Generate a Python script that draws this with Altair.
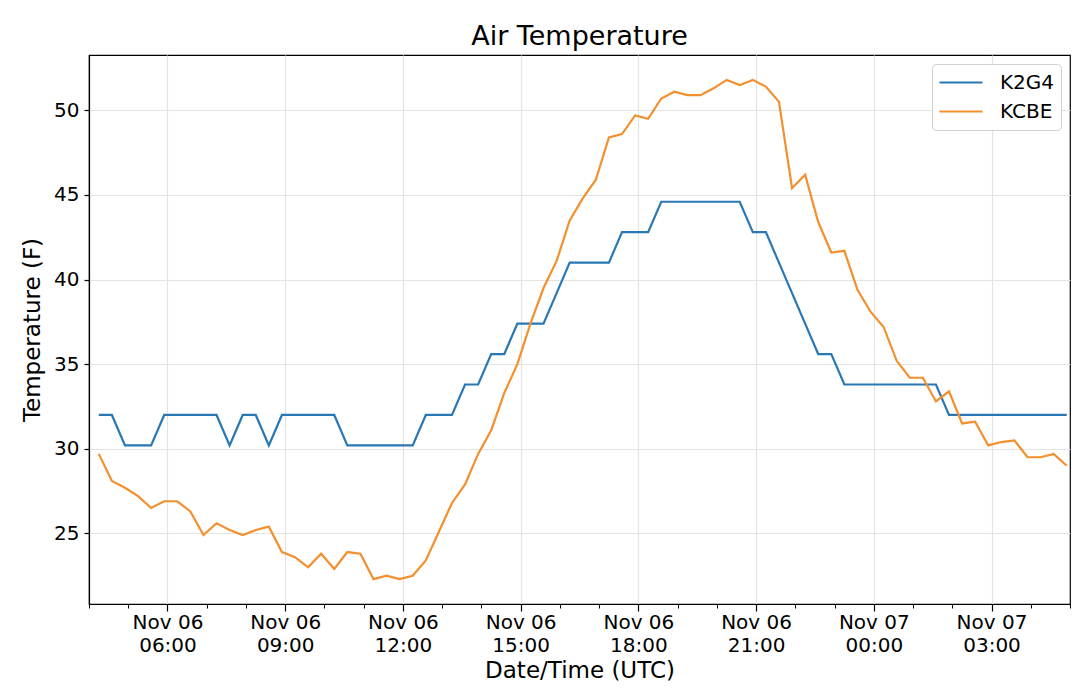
import altair as alt
import pandas as pd

# ---- data ----
start_time = "2018-11-06T04:15:00Z"   # first observation, then every 20 minutes
stations = ["K2G4", "KCBE"]
k2g4 = [32.0, 32.0, 30.2, 30.2, 30.2, 32.0, 32.0, 32.0, 32.0, 32.0,
        30.2, 32.0, 32.0, 30.2, 32.0, 32.0, 32.0, 32.0, 32.0, 30.2,
        30.2, 30.2, 30.2, 30.2, 30.2, 32.0, 32.0, 32.0, 33.8, 33.8,
        35.6, 35.6, 37.4, 37.4, 37.4, 39.2, 41.0, 41.0, 41.0, 41.0,
        42.8, 42.8, 42.8, 44.6, 44.6, 44.6, 44.6, 44.6, 44.6, 44.6,
        42.8, 42.8, 41.0, 39.2, 37.4, 35.6, 35.6, 33.8, 33.8, 33.8,
        33.8, 33.8, 33.8, 33.8, 33.8, 32.0, 32.0, 32.0, 32.0, 32.0,
        32.0, 32.0, 32.0, 32.0, 32.0]
kcbe = [29.7, 28.1, 27.7, 27.2, 26.5, 26.9, 26.9, 26.3, 24.9, 25.6,
        25.2, 24.9, 25.2, 25.4, 23.9, 23.6, 23.0, 23.8, 22.9, 23.9,
        23.8, 22.3, 22.5, 22.3, 22.5, 23.4, 25.1, 26.8, 27.9, 29.7,
        31.1, 33.3, 35.0, 37.4, 39.5, 41.1, 43.5, 44.8, 45.9, 48.4,
        48.6, 49.7, 49.5, 50.7, 51.1, 50.9, 50.9, 51.3, 51.8, 51.5,
        51.8, 51.4, 50.5, 45.4, 46.2, 43.4, 41.6, 41.7, 39.4, 38.1,
        37.2, 35.2, 34.2, 34.2, 32.8, 33.4, 31.5, 31.6, 30.2, 30.4,
        30.5, 29.5, 29.5, 29.7, 29.0]
colors = ["#2a78b3", "#f48f2e"]
y_ticks = [25, 30, 35, 40, 45, 50]
y_domain = [20.83, 53.27]

times = pd.date_range(start_time, periods=len(kcbe), freq="20min")
time_str = [t.strftime("%Y-%m-%dT%H:%M:%SZ") for t in times]

df = pd.DataFrame({
    "time": time_str * 2,
    "station": [stations[0]] * len(k2g4) + [stations[1]] * len(kcbe),
    "temp": k2g4 + kcbe,
})


def dt(day, hour):
    return alt.DateTime(year=2018, month=11, date=day, hours=hour, utc=True)


x_domain = [dt(6, 4), dt(7, 5)]
major_vals = [dt(6, h) for h in range(6, 24, 3)] + [dt(7, h) for h in (0, 3)]
minor_vals = [dt(6, h) for h in range(4, 24)] + [dt(7, h) for h in range(0, 6)]

FONT = "DejaVu Sans"
xscale = alt.Scale(type="utc", domain=x_domain)
yscale = alt.Scale(domain=y_domain, nice=False, zero=False)

major_axis = alt.Axis(
    orient="bottom", values=major_vals,
    labelExpr="[utcFormat(datum.value, '%b %d'), utcFormat(datum.value, '%H:%M')]",
    labelFont=FONT, labelFontSize=20, labelLineHeight=23, labelColor="#000000",
    labelPadding=1, tickSize=7, tickColor="#000000", tickWidth=1.2,
    domainColor="#000000", domainWidth=1.2,
    grid=True, gridColor="#e4e4e4", gridWidth=1.2,
    title="Date/Time (UTC)", titleFont=FONT, titleFontSize=23,
    titleFontWeight="normal", titleColor="#000000", titlePadding=4,
    labelOverlap=False, labelFlush=False,
)
minor_axis = alt.Axis(
    orient="bottom", values=minor_vals, labels=False, grid=False,
    domain=False, tickSize=4, tickColor="#000000", tickWidth=1.0, title=None,
)
y_axis = alt.Axis(
    orient="left", values=y_ticks, labelFont=FONT, labelFontSize=20,
    labelColor="#000000", labelPadding=5, tickSize=5, tickColor="#000000",
    tickWidth=1.2, domainColor="#000000", domainWidth=1.2,
    grid=True, gridColor="#e4e4e4", gridWidth=1.2,
    title="Temperature (F)", titleFont=FONT, titleFontSize=23,
    titleFontWeight="normal", titleColor="#000000", titlePadding=9,
)

legend = alt.Legend(
    title=None, orient="none", legendX=843, legendY=9,
    symbolType="stroke", symbolSize=1849, symbolStrokeWidth=2.2,
    clipHeight=25, rowPadding=4, labelFont=FONT, labelFontSize=20,
    labelColor="#000000", labelOffset=16, padding=6,
    strokeColor="#d0d0d0", fillColor="#ffffff", cornerRadius=4,
)

minor = alt.Chart(df).mark_point(opacity=0).encode(
    x=alt.X("time:T", scale=xscale, axis=minor_axis),
    y=alt.Y("temp:Q", scale=yscale, axis=None),
)

lines = alt.Chart(df).mark_line(strokeWidth=2.2).encode(
    x=alt.X("time:T", scale=xscale, axis=major_axis),
    y=alt.Y("temp:Q", scale=yscale, axis=y_axis),
    color=alt.Color("station:N", scale=alt.Scale(domain=stations, range=colors),
                    legend=legend),
)

chart = alt.layer(minor, lines).resolve_axis(
    x="independent", y="independent"
).properties(
    width=981, height=549,
    title=alt.TitleParams("Air Temperature", font=FONT, fontSize=27,
                          fontWeight="normal", color="#000000",
                          anchor="middle", offset=4),
    autosize=alt.AutoSizeParams(type="none"),
    padding={"left": 81, "top": 47, "right": 1, "bottom": 82},
    background="#ffffff",
).configure_view(stroke="#000000", strokeWidth=1.2)

chart.save("out.html", embed_options={"renderer": "svg", "actions": False})
